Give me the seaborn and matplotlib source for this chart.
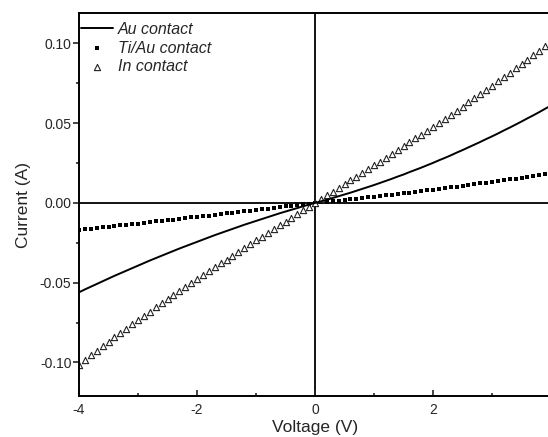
import numpy as np
import pandas as pd
import seaborn as sns
import matplotlib
matplotlib.use("Agg")
import matplotlib.pyplot as plt
from matplotlib.ticker import MultipleLocator, FormatStrFormatter

# I-V sweep, -4 V to 4 V in 0.1 V steps
voltage = [-4.0, -3.9, -3.8, -3.7, -3.6, -3.5, -3.4, -3.3, -3.2, -3.1,
           -3.0, -2.9, -2.8, -2.7, -2.6, -2.5, -2.4, -2.3, -2.2, -2.1,
           -2.0, -1.9, -1.8, -1.7, -1.6, -1.5, -1.4, -1.3, -1.2, -1.1,
           -1.0, -0.9, -0.8, -0.7, -0.6, -0.5, -0.4, -0.3, -0.2, -0.1,
           0.0,
           0.1, 0.2, 0.3, 0.4, 0.5, 0.6, 0.7, 0.8, 0.9, 1.0,
           1.1, 1.2, 1.3, 1.4, 1.5, 1.6, 1.7, 1.8, 1.9, 2.0,
           2.1, 2.2, 2.3, 2.4, 2.5, 2.6, 2.7, 2.8, 2.9, 3.0,
           3.1, 3.2, 3.3, 3.4, 3.5, 3.6, 3.7, 3.8, 3.9, 4.0]

current_au = [-0.0560, -0.0542, -0.0525, -0.0508, -0.0491, -0.0474, -0.0457, -0.0441, -0.0425, -0.0409,
              -0.0393, -0.0377, -0.0361, -0.0346, -0.0331, -0.0316, -0.0301, -0.0286, -0.0272, -0.0258,
              -0.0244, -0.0230, -0.0216, -0.0202, -0.0189, -0.0176, -0.0163, -0.0150, -0.0137, -0.0125,
              -0.0113, -0.0101, -0.0089, -0.0077, -0.0065, -0.0054, -0.0043, -0.0032, -0.0021, -0.0010,
              0.0,
              0.0010, 0.0020, 0.0031, 0.0042, 0.0053, 0.0064, 0.0076, 0.0088, 0.0100, 0.0112,
              0.0125, 0.0138, 0.0151, 0.0165, 0.0178, 0.0193, 0.0207, 0.0221, 0.0236, 0.0251,
              0.0267, 0.0282, 0.0298, 0.0315, 0.0331, 0.0348, 0.0365, 0.0382, 0.0400, 0.0417,
              0.0435, 0.0454, 0.0472, 0.0491, 0.0510, 0.0530, 0.0549, 0.0569, 0.0590, 0.0610]

current_tiau = [-0.0169, -0.0165, -0.0161, -0.0157, -0.0153, -0.0149, -0.0145, -0.0141, -0.0137, -0.0133,
                -0.0129, -0.0125, -0.0121, -0.0116, -0.0112, -0.0108, -0.0104, -0.0100, -0.0096, -0.0091,
                -0.0087, -0.0083, -0.0079, -0.0074, -0.0070, -0.0066, -0.0062, -0.0057, -0.0053, -0.0049,
                -0.0044, -0.0040, -0.0036, -0.0031, -0.0027, -0.0022, -0.0018, -0.0013, -0.0009, -0.0004,
                0.0,
                0.0004, 0.0007, 0.0011, 0.0015, 0.0019, 0.0023, 0.0027, 0.0031, 0.0035, 0.0039,
                0.0043, 0.0048, 0.0052, 0.0056, 0.0061, 0.0065, 0.0070, 0.0074, 0.0079, 0.0083,
                0.0088, 0.0093, 0.0097, 0.0102, 0.0107, 0.0112, 0.0117, 0.0122, 0.0127, 0.0132,
                0.0137, 0.0142, 0.0147, 0.0152, 0.0158, 0.0163, 0.0168, 0.0174, 0.0179, 0.0185]

current_in = [-0.1013, -0.0984, -0.0955, -0.0927, -0.0898, -0.0871, -0.0843, -0.0815, -0.0788, -0.0761,
              -0.0734, -0.0708, -0.0682, -0.0655, -0.0630, -0.0604, -0.0578, -0.0553, -0.0528, -0.0503,
              -0.0478, -0.0453, -0.0428, -0.0404, -0.0379, -0.0355, -0.0331, -0.0307, -0.0283, -0.0259,
              -0.0235, -0.0211, -0.0188, -0.0164, -0.0141, -0.0117, -0.0094, -0.0070, -0.0047, -0.0023,
              0.0,
              0.0023, 0.0047, 0.0070, 0.0094, 0.0117, 0.0141, 0.0164, 0.0188, 0.0211, 0.0235,
              0.0259, 0.0283, 0.0307, 0.0331, 0.0355, 0.0379, 0.0404, 0.0428, 0.0453, 0.0478,
              0.0503, 0.0528, 0.0553, 0.0578, 0.0604, 0.0630, 0.0655, 0.0682, 0.0708, 0.0734,
              0.0761, 0.0788, 0.0815, 0.0843, 0.0871, 0.0898, 0.0927, 0.0955, 0.0984, 0.1013]

df = pd.DataFrame({"V": voltage, "Au": current_au, "TiAu": current_tiau, "In": current_in})

sns.set_style("ticks")
plt.rcParams['font.family'] = ['Liberation Sans', 'DejaVu Sans']
plt.rcParams['axes.unicode_minus'] = False

fig = plt.figure(figsize=(5.48, 4.37), dpi=100)
ax = fig.add_axes([0.1442, 0.0938, 0.8613, 0.8764])

sns.lineplot(data=df, x="V", y="Au", ax=ax, color="black", linewidth=1.4,
             label="Au contact")
sns.scatterplot(data=df, x="V", y="TiAu", ax=ax, marker="s", s=11, color="black",
                edgecolor="black", linewidth=0, label="Ti/Au contact")
sns.scatterplot(data=df, x="V", y="In", ax=ax, marker="^", s=20, facecolor="white",
                edgecolor="#222222", linewidth=0.8, label="In contact")

ax.axhline(0, color="black", linewidth=1.3, zorder=0)
ax.axvline(0, color="black", linewidth=1.3, zorder=0)

ax.set_xlim(-4, 4)
ax.set_ylim(-0.121, 0.119)
ax.xaxis.set_major_locator(MultipleLocator(2))
ax.xaxis.set_minor_locator(MultipleLocator(1))
ax.yaxis.set_major_locator(MultipleLocator(0.05))
ax.yaxis.set_minor_locator(MultipleLocator(0.025))
ax.yaxis.set_major_formatter(FormatStrFormatter('%.2f'))

ax.tick_params(axis='x', which='both', direction='in', labelsize=10, pad=5)
ax.tick_params(axis='y', which='both', direction='out', labelsize=10, pad=1)
ax.tick_params(which='major', length=4.5, width=1.2)
ax.tick_params(which='minor', length=2.5, width=1.2)

for sp in ax.spines.values():
    sp.set_linewidth(1.4)
    sp.set_color("black")

ax.set_xlabel("Voltage (V)", fontsize=12.5, labelpad=2)
ax.set_ylabel("Current (A)", fontsize=12.5, labelpad=6)

leg = ax.legend(loc="upper left", bbox_to_anchor=(0.0, 0.982), frameon=False,
                fontsize=11.5, handlelength=2.0, handletextpad=0.35, labelspacing=0.25,
                borderaxespad=0, borderpad=0.1)
for t in leg.get_texts():
    t.set_fontstyle("italic")

fig.savefig("out.png", dpi=100)
